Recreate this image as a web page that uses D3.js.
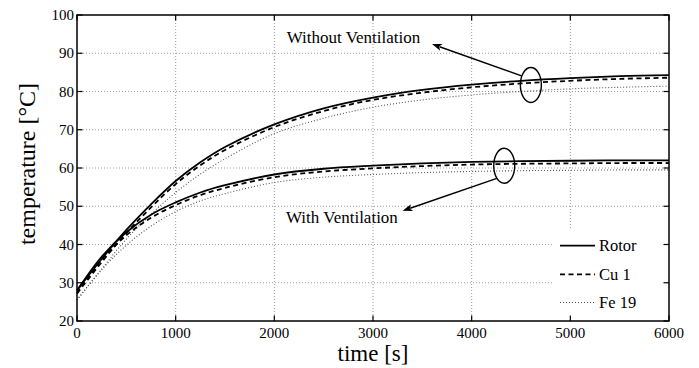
<!DOCTYPE html>
<html>
<head>
<meta charset="utf-8">
<script src="https://cdn.jsdelivr.net/npm/d3@7"></script>
<style>
  html, body { margin: 0; padding: 0; background: #fff; }
  svg { display: block; }
</style>
</head>
<body>
<svg id="chart" width="699" height="368" font-family="'Liberation Serif', 'DejaVu Serif', 'Times New Roman', serif"></svg>
<script>
// ---- data ----
const time = [0, 250, 500, 750, 1000, 1250, 1500, 2000, 2500, 3000, 3500, 4000, 4500, 5000, 5500, 6000];

const rotorNoVent = [28.0, 36.2, 43.8, 50.5, 56.6, 61.5, 65.5, 71.4, 75.6, 78.4, 80.4, 81.8, 82.8, 83.5, 84.0, 84.3];
const cuNoVent    = [27.2, 35.4, 43.0, 49.7, 55.8, 60.7, 64.7, 70.7, 74.9, 77.8, 79.7, 81.1, 82.1, 82.8, 83.3, 83.6];
const feNoVent    = [25.5, 33.6, 41.4, 47.9, 53.6, 58.4, 62.4, 69.0, 73.0, 75.9, 77.8, 79.1, 80.0, 80.7, 81.1, 81.4];

const rotorVent = [28.0, 36.8, 43.2, 47.8, 51.0, 53.6, 55.5, 58.3, 59.8, 60.6, 61.2, 61.6, 61.8, 61.9, 62.0, 62.0];
const cuVent    = [27.2, 36.0, 42.4, 47.0, 50.3, 52.9, 54.8, 57.6, 59.1, 59.9, 60.5, 60.9, 61.1, 61.2, 61.3, 61.3];
const feVent    = [25.5, 33.4, 39.8, 44.8, 48.6, 51.4, 53.3, 56.2, 57.6, 58.3, 58.8, 59.1, 59.3, 59.4, 59.5, 59.5];

const seriesNames = ["Rotor", "Cu 1", "Fe 19"];
const xTicks = [0, 1000, 2000, 3000, 4000, 5000, 6000];
const yTicks = [20, 30, 40, 50, 60, 70, 80, 90, 100];
const xLabel = "time [s]";
const yLabel = "temperature [°C]";

// annotations in data units
const annNoVent = { text: "Without Ventilation", tx: 2125, ty: 92.6, cx: 4600, cy: 81.7, from: [4505, 84.1], to: [3598, 92.4] };
const annVent   = { text: "With Ventilation",    tx: 3252, ty: 45.5, cx: 4330, cy: 60.6, from: [4255, 57.3], to: [3300, 48.8] };

// ---- layout ----
const W = 699, H = 368;
const m = { left: 77, right: 30, top: 15, bottom: 47 };
const svg = d3.select("#chart");
const FONT = "'Liberation Serif', 'DejaVu Serif', 'Times New Roman', serif";

const x = d3.scaleLinear().domain([0, 6000]).range([m.left, W - m.right]);
const y = d3.scaleLinear().domain([20, 100]).range([H - m.bottom, m.top]);

const styles = {
  "Rotor": { dash: null, width: 1.8, color: "#000" },
  "Cu 1": { dash: "5,3.5", width: 1.8, color: "#000" },
  "Fe 19": { dash: "1,2", width: 1.1, color: "#555" }
};

// grid
const grid = svg.append("g");
grid.selectAll("line.gx").data(xTicks.slice(1, -1)).enter().append("line")
  .attr("x1", d => x(d)).attr("x2", d => x(d))
  .attr("y1", y(20)).attr("y2", y(100))
  .attr("stroke", "#9a9a9a").attr("stroke-width", 1).attr("stroke-dasharray", "1,2");
grid.selectAll("line.gy").data(yTicks.slice(1, -1)).enter().append("line")
  .attr("y1", d => y(d)).attr("y2", d => y(d))
  .attr("x1", x(0)).attr("x2", x(6000))
  .attr("stroke", "#9a9a9a").attr("stroke-width", 1).attr("stroke-dasharray", "1,2");

// curves
const line = d3.line().x(d => x(d[0])).y(d => y(d[1])).curve(d3.curveCatmullRom.alpha(0.5));
const curves = [
  ["Fe 19", feNoVent], ["Fe 19", feVent],
  ["Cu 1", cuNoVent], ["Cu 1", cuVent],
  ["Rotor", rotorNoVent], ["Rotor", rotorVent]
];
curves.forEach(([name, vals]) => {
  const s = styles[name];
  svg.append("path")
    .datum(time.map((t, i) => [t, vals[i]]))
    .attr("d", line)
    .attr("fill", "none")
    .attr("stroke", s.color)
    .attr("stroke-width", s.width)
    .attr("stroke-dasharray", s.dash);
});

// legend
const lg = svg.append("g");
lg.append("rect").attr("x", 553).attr("y", 228)
  .attr("width", x(6000) - 553).attr("height", y(20) - 228).attr("fill", "#fff");
const legY = [245.7, 274.3, 302.5];
seriesNames.forEach((n, i) => {
  const s = styles[n];
  lg.append("line").attr("x1", 560).attr("x2", 595).attr("y1", legY[i]).attr("y2", legY[i])
    .attr("stroke", s.color).attr("stroke-width", s.width).attr("stroke-dasharray", s.dash);
  lg.append("text").attr("x", 599).attr("y", legY[i] + 5.5).attr("font-family", FONT)
    .attr("font-size", 16.5).text(n);
});

// axes box + inner ticks
const ax = svg.append("g");
const tickLen = 5.5;
xTicks.forEach(t => {
  ax.append("line").attr("x1", x(t)).attr("x2", x(t)).attr("y1", y(20)).attr("y2", y(20) - tickLen)
    .attr("stroke", "#000").attr("stroke-width", 1.2);
  ax.append("line").attr("x1", x(t)).attr("x2", x(t)).attr("y1", y(100)).attr("y2", y(100) + tickLen)
    .attr("stroke", "#000").attr("stroke-width", 1.2);
  ax.append("text").attr("x", x(t)).attr("y", y(20) + 17).attr("text-anchor", "middle")
    .attr("font-family", FONT).attr("font-size", 15).text(t);
});
yTicks.forEach(v => {
  ax.append("line").attr("x1", x(0)).attr("x2", x(0) + tickLen).attr("y1", y(v)).attr("y2", y(v))
    .attr("stroke", "#000").attr("stroke-width", 1.2);
  ax.append("line").attr("x1", x(6000)).attr("x2", x(6000) - tickLen).attr("y1", y(v)).attr("y2", y(v))
    .attr("stroke", "#000").attr("stroke-width", 1.2);
  ax.append("text").attr("x", x(0) - 3).attr("y", y(v) + 5).attr("text-anchor", "end")
    .attr("font-family", FONT).attr("font-size", 15).text(v);
});
ax.append("rect").attr("x", x(0)).attr("y", y(100))
  .attr("width", x(6000) - x(0)).attr("height", y(20) - y(100))
  .attr("fill", "none").attr("stroke", "#000").attr("stroke-width", 1.5);

// axis titles
svg.append("text").attr("x", (x(0) + x(6000)) / 2).attr("y", 361)
  .attr("text-anchor", "middle").attr("font-family", FONT).attr("font-size", 23).text(xLabel);
svg.append("text").attr("transform", `translate(35,164) rotate(-90)`)
  .attr("text-anchor", "middle").attr("font-family", FONT).attr("font-size", 24).text(yLabel);

// annotations
function drawAnn(a, anchor) {
  const g = svg.append("g");
  g.append("ellipse").attr("cx", x(a.cx)).attr("cy", y(a.cy))
    .attr("rx", 10.5).attr("ry", 17.5).attr("fill", "none")
    .attr("stroke", "#000").attr("stroke-width", 1.4);
  const x1 = x(a.from[0]), y1 = y(a.from[1]), x2 = x(a.to[0]), y2 = y(a.to[1]);
  const ang = Math.atan2(y2 - y1, x2 - x1);
  const hl = 10, hw = 3.6;
  const bx = x2 - hl * Math.cos(ang), by = y2 - hl * Math.sin(ang);
  g.append("line").attr("x1", x1).attr("y1", y1).attr("x2", bx + 2 * Math.cos(ang)).attr("y2", by + 2 * Math.sin(ang))
    .attr("stroke", "#000").attr("stroke-width", 1.4);
  const px = -Math.sin(ang), py = Math.cos(ang);
  const pts = [[x2, y2], [bx + hw * px, by + hw * py], [bx + 2.5 * Math.cos(ang), by + 2.5 * Math.sin(ang)], [bx - hw * px, by - hw * py]];
  g.append("path").attr("d", "M" + pts.map(p => p.join(",")).join("L") + "Z").attr("fill", "#000");
  g.append("text").attr("x", x(a.tx)).attr("y", y(a.ty)).attr("text-anchor", anchor)
    .attr("font-family", FONT).attr("font-size", 17).text(a.text);
}
drawAnn(annNoVent, "start");
drawAnn(annVent, "end");
</script>
</body>
</html>
